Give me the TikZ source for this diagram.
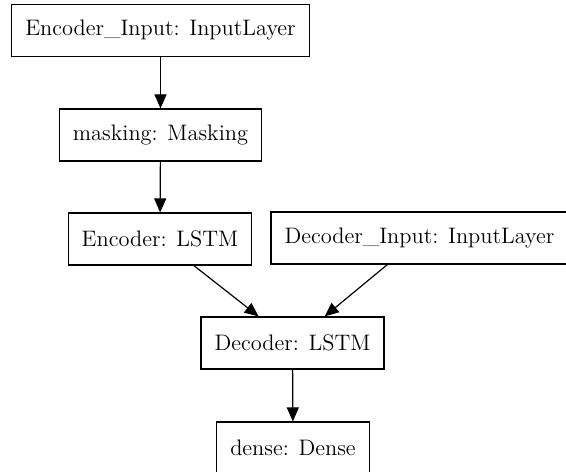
\documentclass[tikz,border=0pt]{standalone}
\usepackage{tikz}
\usetikzlibrary{arrows.meta}

\begin{document}
\begin{tikzpicture}[x=0.5pt, y=0.5pt, line width=0.6pt]
    \useasboundingbox (0, 0) rectangle (566, 471);

    % Define styles for boxes and arrows
    \tikzstyle{layer} = [rectangle, draw=black, minimum height=26pt, inner xsep=6.75pt, text centered, font=\fontsize{11.2}{13}\selectfont]
    \tikzstyle{arrow} = [-{Triangle[length=7pt, width=6pt]}]

    % boxes
    \node (encinput) [layer] at (160.5, 440.5) {Encoder\_Input: InputLayer};
    \node (masking) [layer] at (160.5, 336) {masking: Masking};
    \node (encoder) [layer] at (160, 232) {Encoder: LSTM};
    \node (decinput) [layer] at (419.5, 233) {Decoder\_Input: InputLayer};
    \node (decoder) [layer] at (292.5, 128) {Decoder: LSTM};
    \node (dense) [layer] at (293, 23) {dense: Dense};

    % Arrows
    \draw [arrow] (encinput) -- (masking);
    \draw [arrow] (masking) -- (encoder);
    \draw [arrow] (encoder) -- (decoder);
    \draw [arrow] (decinput) -- (decoder);
    \draw [arrow] (decoder) -- (dense);
\end{tikzpicture}
\end{document}
